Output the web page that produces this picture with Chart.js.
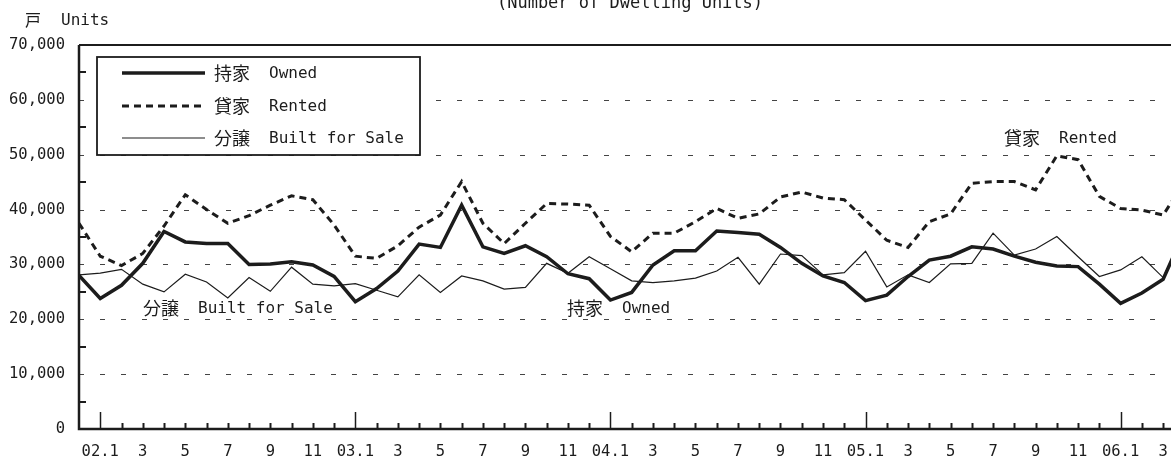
<!DOCTYPE html>
<html>
<head>
<meta charset="utf-8">
<script src="https://cdn.jsdelivr.net/npm/chart.js@4.4.1/dist/chart.umd.min.js"></script>
<style>
  body { margin: 0; background: #fff; }
</style>
</head>
<body>
<canvas id="starts" width="1171" height="470"></canvas>
<script>
// -------------------- DATA --------------------
// monthly points, 01.12 .. 06.4 (06.4 sits just past the cropped right edge)
const months = [
  '01.12',
  '02.1', '02.2', '02.3', '02.4', '02.5', '02.6', '02.7', '02.8', '02.9', '02.10', '02.11', '02.12',
  '03.1', '03.2', '03.3', '03.4', '03.5', '03.6', '03.7', '03.8', '03.9', '03.10', '03.11', '03.12',
  '04.1', '04.2', '04.3', '04.4', '04.5', '04.6', '04.7', '04.8', '04.9', '04.10', '04.11', '04.12',
  '05.1', '05.2', '05.3', '05.4', '05.5', '05.6', '05.7', '05.8', '05.9', '05.10', '05.11', '05.12',
  '06.1', '06.2', '06.3', '06.4'
];

// labels shown under every second month, starting at 02.1
const tickLabels = [
  '02.1', '3', '5', '7', '9', '11',
  '03.1', '3', '5', '7', '9', '11',
  '04.1', '3', '5', '7', '9', '11',
  '05.1', '3', '5', '7', '9', '11',
  '06.1', '3'
];

// 持家 Owned (units)
const owned = [
  28000,
  23800, 26200, 30200, 36000, 34100, 33800, 33800, 30000, 30100, 30500, 29900, 27800,
  23200, 25600, 28800, 33700, 33100, 40800, 33200, 32000, 33400, 31400, 28300, 27400,
  23500, 24900, 29900, 32500, 32500, 36100, 35800, 35500, 33100, 30200, 27900, 26700,
  23400, 24400, 27800, 30800, 31500, 33200, 32800, 31500, 30400, 29700, 29600, 26400,
  22900, 24800, 27300, 36000
];

// 貸家 Rented (units)
const rented = [
  37500,
  31500, 29800, 32000, 37000, 42700, 40000, 37500, 38900, 40800, 42500, 41800, 37200,
  31500, 31100, 33400, 36800, 39000, 45100, 37500, 33800, 37500, 41100, 41000, 40800,
  35100, 32300, 35700, 35700, 37800, 40200, 38400, 39200, 42300, 43200, 42100, 41800,
  38100, 34400, 33100, 37800, 39200, 44800, 45100, 45100, 43600, 49800, 49100, 42400,
  40200, 39900, 39000, 45000
];

// 分譲 Built for Sale (units)
const forSale = [
  28100,
  28400, 29100, 26400, 25000, 28200, 26800, 23900, 27600, 25100, 29500, 26400, 26100,
  26500, 25300, 24100, 28100, 24900, 27900, 27000, 25500, 25800, 30200, 28400, 31400,
  29200, 27000, 26700, 27000, 27500, 28800, 31300, 26400, 31900, 31600, 28100, 28500,
  32400, 25900, 28100, 26700, 30100, 30200, 35700, 31700, 32800, 35100, 31400, 27800,
  29000, 31400, 27600, 36000
];

const yMax = 70000;
const yStep = 10000;
const xEnd = 51.37; // picture is cropped a bit after 06.3

// -------------------- STYLE --------------------
const INK = '#1c1c1c';
const MONO = "'DejaVu Sans Mono', 'Liberation Mono', monospace";
const CJK = "'Noto Sans CJK JP', 'Noto Sans CJK SC', sans-serif";
const RENTED_DASH = [7, 5];

function pairText(ctx, x, y, jp, en) {
  ctx.textBaseline = 'middle';
  ctx.textAlign = 'left';
  ctx.font = '18px ' + CJK;
  ctx.fillText(jp, x, y);
  ctx.font = '16px ' + MONO;
  ctx.fillText(en, x + 55, y + 1);
}

// grid, axes and tick marks drawn from the chart's own scales
const frame = {
  id: 'frame',
  beforeDatasetsDraw(chart) {
    const { ctx, chartArea: a, scales: { x, y } } = chart;
    ctx.save();
    ctx.strokeStyle = '#444';
    ctx.lineWidth = 1;
    ctx.setLineDash([5, 16]);
    for (let v = yStep; v < yMax; v += yStep) {
      const py = Math.round(y.getPixelForValue(v)) + 0.5;
      ctx.beginPath();
      ctx.moveTo(a.left, py);
      ctx.lineTo(a.right, py);
      ctx.stroke();
    }
    ctx.setLineDash([]);
    ctx.strokeStyle = INK;

    // minor y ticks every 5,000
    ctx.lineWidth = 2;
    for (let v = yStep / 2; v < yMax; v += yStep) {
      const py = Math.round(y.getPixelForValue(v));
      ctx.beginPath();
      ctx.moveTo(a.left, py);
      ctx.lineTo(a.left + 7, py);
      ctx.stroke();
    }

    // month ticks, taller at January
    for (let i = 1; i < months.length; i++) {
      const px = Math.round(x.getPixelForValue(i)) + 0.5;
      if (px > a.right) break;
      const jan = months[i].endsWith('.1');
      ctx.lineWidth = jan ? 1.5 : 2;
      ctx.beginPath();
      ctx.moveTo(px, a.bottom);
      ctx.lineTo(px, a.bottom - (jan ? 17 : 6));
      ctx.stroke();
    }

    // frame lines
    ctx.lineWidth = 2.5;
    ctx.beginPath();
    ctx.moveTo(a.left, a.top);
    ctx.lineTo(a.left, a.bottom);
    ctx.lineTo(a.right, a.bottom);
    ctx.stroke();
    ctx.lineWidth = 2;
    ctx.beginPath();
    ctx.moveTo(a.left, a.top);
    ctx.lineTo(a.right, a.top);
    ctx.stroke();
    ctx.restore();
  },
  afterDatasetsDraw(chart) {
    const { ctx } = chart;
    ctx.save();
    ctx.fillStyle = INK;
    ctx.strokeStyle = INK;

    // legend box
    ctx.fillStyle = '#fff';
    ctx.fillRect(97, 57, 323, 98);
    ctx.lineWidth = 1.8;
    ctx.strokeRect(97, 57, 323, 98);
    ctx.fillStyle = INK;

    const rows = [
      { y: 73, w: 3.5, dash: [], jp: '持家', en: 'Owned' },
      { y: 106, w: 3, dash: RENTED_DASH, jp: '貸家', en: 'Rented' },
      { y: 138, w: 1.2, dash: [], jp: '分譲', en: 'Built for Sale' }
    ];
    rows.forEach(r => {
      ctx.lineWidth = r.w;
      ctx.setLineDash(r.dash);
      ctx.beginPath();
      ctx.moveTo(122, r.y);
      ctx.lineTo(205, r.y);
      ctx.stroke();
      ctx.setLineDash([]);
      pairText(ctx, 214, r.y, r.jp, r.en);
    });

    // series labels on the plot
    pairText(ctx, 143, 308, '分譲', 'Built for Sale');
    pairText(ctx, 567, 308, '持家', 'Owned');
    pairText(ctx, 1004, 138, '貸家', 'Rented');

    // unit and (cropped) title
    ctx.textBaseline = 'middle';
    ctx.font = '16px ' + CJK;
    ctx.fillText('戸', 25, 20);
    ctx.font = '16px ' + MONO;
    ctx.fillText('Units', 61, 21);
    ctx.textAlign = 'center';
    ctx.textBaseline = 'alphabetic';
    ctx.font = '17px ' + MONO;
    ctx.fillText('(Number of Dwelling Units)', 630, 8);
    ctx.restore();
  }
};

const toPoints = arr => arr.map((v, i) => ({ x: i, y: v }));

new Chart(document.getElementById('starts'), {
  type: 'line',
  data: {
    datasets: [
      {
        label: '持家 Owned',
        data: toPoints(owned),
        borderColor: INK,
        borderWidth: 3.5,
        pointRadius: 0,
        tension: 0
      },
      {
        label: '貸家 Rented',
        data: toPoints(rented),
        borderColor: INK,
        borderWidth: 3,
        borderDash: RENTED_DASH,
        pointRadius: 0,
        tension: 0
      },
      {
        label: '分譲 Built for Sale',
        data: toPoints(forSale),
        borderColor: INK,
        borderWidth: 1.2,
        pointRadius: 0,
        tension: 0
      }
    ]
  },
  options: {
    responsive: false,
    animation: false,
    layout: { padding: { top: 45, left: 0, right: 0, bottom: 0 } },
    plugins: {
      legend: { display: false },
      tooltip: { enabled: false }
    },
    scales: {
      x: {
        type: 'linear',
        min: 0,
        max: xEnd,
        afterFit: s => {
          s.height = 41;
          s.paddingLeft = 0;
          s.paddingRight = 0;
        },
        afterBuildTicks: s => { s.ticks = months.map((m, i) => ({ value: i })); },
        grid: { display: false, drawTicks: false },
        border: { display: false },
        ticks: {
          autoSkip: false,
          maxRotation: 0,
          padding: 14,
          color: INK,
          font: { family: MONO, size: 15.5 },
          callback: v => (v % 2 === 1) ? tickLabels[(v - 1) / 2] : ''
        }
      },
      y: {
        min: 0,
        max: yMax,
        afterFit: s => { s.width = 79; },
        grid: { display: false, drawTicks: false },
        border: { display: false },
        ticks: {
          stepSize: yStep,
          padding: 14,
          color: INK,
          font: { family: MONO, size: 15.5 },
          callback: v => v.toLocaleString('en-US')
        }
      }
    }
  },
  plugins: [frame]
});
</script>
</body>
</html>
